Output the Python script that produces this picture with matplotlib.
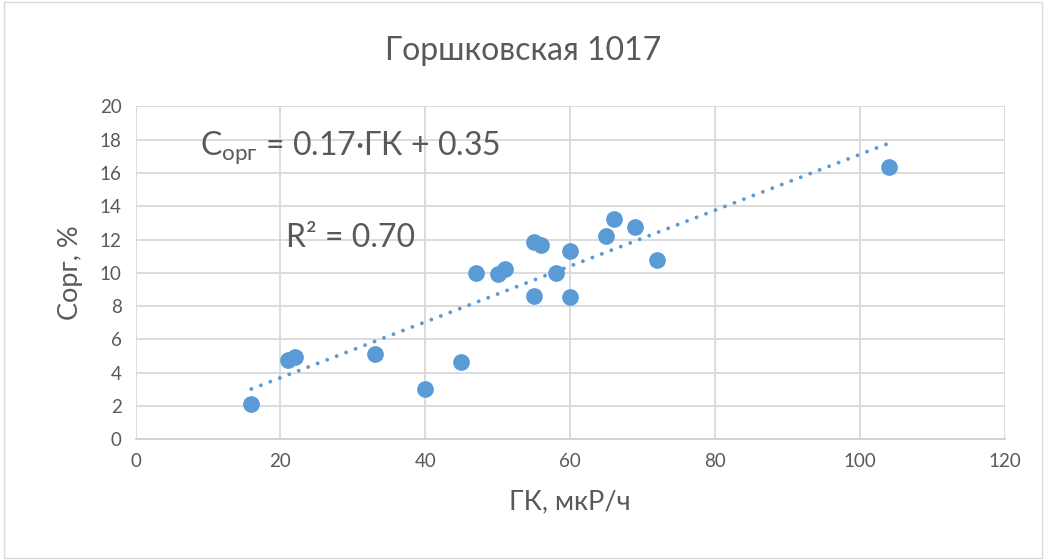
import matplotlib.pyplot as plt
import numpy as np

# ГК (мкР/ч) vs Сорг (%)
gk = [16, 21, 22, 33, 40, 45, 47, 50, 51, 55, 55, 56, 58, 60, 60, 65, 66, 69, 72, 104]
corg = [2.1, 4.76, 4.94, 5.15, 3.05, 4.62, 9.97, 9.93, 10.22, 11.84, 8.62, 11.66,
        9.97, 11.31, 8.55, 12.22, 13.26, 12.78, 10.78, 16.35]

title = "Горшковская 1017"
eq_text = r"C$_{\mathregular{орг}}$ = 0.17·ГК + 0.35"
r2_text = "R² = 0.70"

blue = "#5B9BD5"
grey_txt = "#595959"

plt.rcParams['font.family'] = ['Lato', 'DejaVu Sans']
plt.rcParams['mathtext.fontset'] = 'custom'
plt.rcParams['mathtext.rm'] = 'Lato'

fig = plt.figure(figsize=(10.46, 5.6), dpi=100)
ax = fig.add_axes([135.5 / 1046, 1 - 439.3 / 560, (1004.6 - 135.5) / 1046, (439.3 - 106.4) / 560])

# trendline (linear fit over data range)
k, b = np.polyfit(gk, corg, 1)
xs = np.array([min(gk), max(gk)])
ax.plot(xs, k * xs + b, linestyle=(0, (0.01, 2.6)), color=blue, lw=2.8,
        dash_capstyle='round', zorder=2)

ax.scatter(gk, corg, s=145, color=blue, zorder=3, linewidths=0)

ax.set_xlim(0, 120)
ax.set_ylim(0, 20)
ax.set_xticks(range(0, 121, 20))
ax.set_yticks(range(0, 21, 2))
ax.grid(True, color="#D9D9D9", lw=1.3)
ax.set_axisbelow(True)
for s in ['top', 'right', 'left']:
    ax.spines[s].set_visible(False)
ax.spines['bottom'].set_color("#D0D0D0")
ax.spines['bottom'].set_linewidth(1.3)
ax.tick_params(length=0, labelsize=13.5, labelcolor=grey_txt, pad=10)

ax.set_xlabel("ГК, мкР/ч", fontsize=19.5, color=grey_txt, labelpad=14)
ax.set_ylabel("Сорг, %", fontsize=19.5, color=grey_txt, labelpad=12)
fig.suptitle(title, fontsize=23, color=grey_txt, y=0.935)

ax.text(8.9, 17.5, eq_text, fontsize=23, color=grey_txt, va='center')
ax.text(20.8, 12.1, r2_text, fontsize=23, color=grey_txt, va='center')

# chart border
fig.patches.append(plt.Rectangle((0.004, 0.004), 0.992, 0.992, transform=fig.transFigure,
                                 fill=False, edgecolor="#D9D9D9", lw=1))

fig.savefig("out.png", dpi=100)
